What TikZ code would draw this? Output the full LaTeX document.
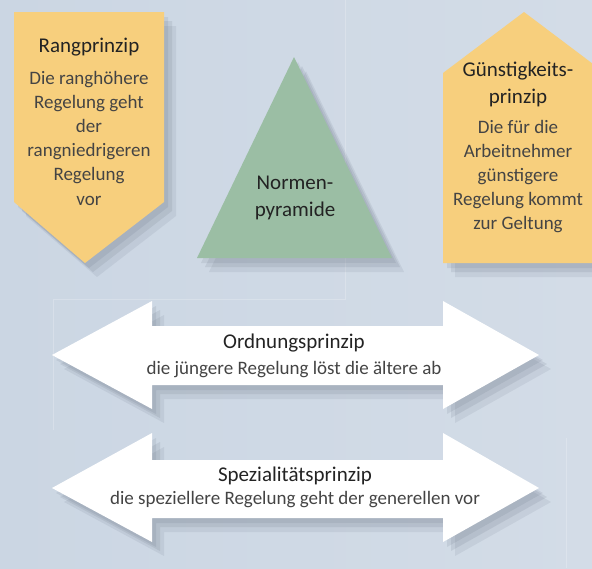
\documentclass[tikz,border=0pt]{standalone}
\usepackage{fontspec}
\setmainfont{Carlito}
\usetikzlibrary{shadows}
\definecolor{bgblue}{RGB}{203,214,227}
\definecolor{bglight}{RGB}{211,220,231}
\definecolor{boxyellow}{RGB}{247,207,125}
\definecolor{pyrgreen}{RGB}{155,190,164}
\definecolor{txtdark}{RGB}{35,35,35}
\definecolor{shadowgray}{RGB}{70,80,100}

\begin{document}
\begin{tikzpicture}[x=1pt, y=-1pt,
  soft/.style={general shadow={fill=shadowgray, opacity=.10, shadow xshift=4pt, shadow yshift=-5pt},
    general shadow={fill=shadowgray, opacity=.11, shadow xshift=8pt, shadow yshift=-9pt},
    general shadow={fill=shadowgray, opacity=.09, shadow xshift=12pt, shadow yshift=-14pt}},
  title/.style={font=\fontsize{21}{27}\selectfont, text=txtdark, align=center, inner sep=0pt},
  body/.style={font=\fontsize{19}{24.2}\selectfont, text=txtdark!85, align=center, inner sep=0pt}]
% Background
\useasboundingbox (0,0) rectangle (592,568);
\clip (0,0) rectangle (592,568);
\shade[left color=bgblue, right color=bglight] (0,0) rectangle (592,568);
\draw[white, opacity=.22, line width=.8pt] (53,430) -- (53,299) -- (345,299) -- (345,0);
\draw[white, opacity=.22, line width=.8pt] (566,438) -- (566,568);
% Left: Rangprinzip
\fill[boxyellow, soft] (14,12) -- (164,12) -- (164,202) -- (85,263) -- (14,202) -- cycle;
\node[title] (rangtitle) at (89,47) {Rangprinzip};
\node[body] (rangtext) at (89,138) {Die ranghöhere\\Regelung geht\\der\\rangniedrigeren\\Regelung\\vor};
% Center: Normenpyramide
\fill[pyrgreen, soft] (294,57) -- (392,258) -- (197,258) -- cycle;
\node[title] (pyramid) at (295,198) {Normen-\\pyramide};
% Right: Guenstigkeitsprinzip
\fill[boxyellow, soft] (443,73) -- (524,12) -- (605,73) -- (605,263) -- (443,263) -- cycle;
\node[title] (guenstitle) at (518,84.5) {Günstigkeits-\\prinzip};
\node[body] (guenstext) at (518,176.5) {Die für die\\Arbeitnehmer\\günstigere\\Regelung kommt\\zur Geltung};
% Arrow 1: Ordnungsprinzip
\fill[white, soft] (52,355) -- (152,301) -- (152,326) -- (443,326) -- (443,301) -- (539,355)
  -- (443,409) -- (443,385) -- (152,385) -- (152,409) -- cycle;
\node[title] (ordtitle) at (294,343) {Ordnungsprinzip};
\node[body] (ordtext) at (294,370) {die jüngere Regelung löst die ältere ab};
% Arrow 2: Spezialitaetsprinzip
\fill[white, soft] (52,488) -- (152,433) -- (152,460) -- (443,460) -- (443,433) -- (539,488)
  -- (443,542) -- (443,518) -- (152,518) -- (152,542) -- cycle;
\node[title] (spztitle) at (295,476) {Spezialitätsprinzip};
\node[body] (spztext) at (295,500) {die speziellere Regelung geht der generellen vor};
\end{tikzpicture}
\end{document}
